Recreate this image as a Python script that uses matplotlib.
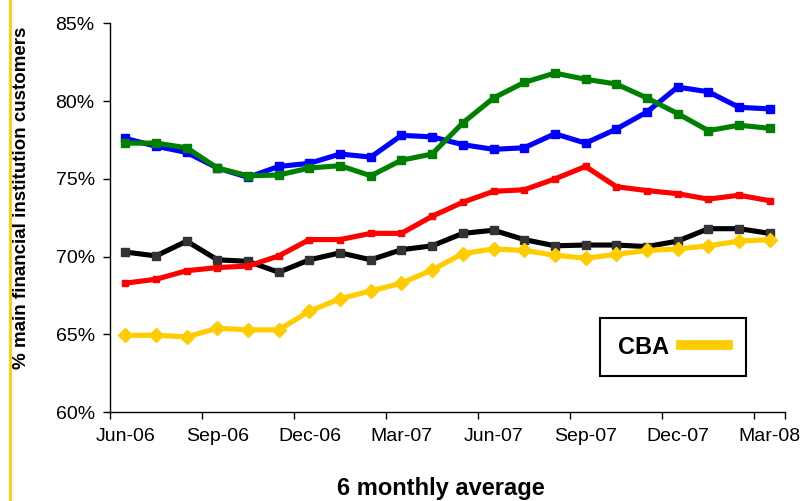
import matplotlib
matplotlib.use("Agg")
import matplotlib.pyplot as plt
from matplotlib.lines import Line2D
from matplotlib.ticker import FuncFormatter

plt.rcParams['font.family'] = ['Liberation Sans', 'DejaVu Sans']

months = ["Jun-06", "Jul-06", "Aug-06", "Sep-06", "Oct-06", "Nov-06", "Dec-06",
          "Jan-07", "Feb-07", "Mar-07", "Apr-07", "May-07", "Jun-07", "Jul-07",
          "Aug-07", "Sep-07", "Oct-07", "Nov-07", "Dec-07", "Jan-08", "Feb-08", "Mar-08"]

blue = [77.6, 77.1, 76.7, 75.7, 75.1, 75.8, 76.0, 76.6, 76.4, 77.8, 77.7, 77.2,
        76.9, 77.0, 77.9, 77.3, 78.2, 79.3, 80.9, 80.6, 79.6, 79.5]
green = [77.3, 77.3, 77.0, 75.7, 75.2, 75.25, 75.7, 75.85, 75.2, 76.2, 76.6, 78.6,
         80.2, 81.2, 81.8, 81.4, 81.1, 80.2, 79.2, 78.1, 78.45, 78.25]
red = [68.3, 68.55, 69.1, 69.3, 69.4, 70.05, 71.1, 71.1, 71.5, 71.5, 72.6, 73.5,
       74.2, 74.3, 75.0, 75.8, 74.5, 74.25, 74.05, 73.7, 73.95, 73.6]
black = [70.3, 70.05, 71.0, 69.8, 69.7, 69.0, 69.8, 70.25, 69.8, 70.45, 70.7, 71.5,
         71.7, 71.1, 70.7, 70.75, 70.75, 70.65, 71.0, 71.8, 71.8, 71.5]
cba = [64.95, 64.95, 64.85, 65.4, 65.3, 65.3, 66.5, 67.3, 67.8, 68.3, 69.15, 70.2,
       70.5, 70.4, 70.1, 69.9, 70.15, 70.4, 70.5, 70.7, 71.0, 71.1]

yticks = [60, 65, 70, 75, 80, 85]
label_idx = [0, 3, 6, 9, 12, 15, 18, 21]

fig = plt.figure(figsize=(8.02, 5.01), dpi=100)
ax = fig.add_axes([110/802, 1 - 412.3/501, 675/802, (412.3 - 23.3)/501])

x = list(range(len(months)))
lw = 3.7
ax.plot(x, black, color='black', lw=lw, marker='s', ms=6, mfc='#333333', mec='#333333', zorder=3)
ax.plot(x, red, color='#FF0000', lw=lw, marker='s', ms=5, mfc='#FF0000', mec='#FF0000', zorder=4)
ax.plot(x, blue, color='#0000FF', lw=lw, marker='s', ms=6, mfc='#0000FF', mec='#0000FF', zorder=5)
ax.plot(x, green, color='#008000', lw=lw, marker='s', ms=6, mfc='#008000', mec='#008000', zorder=6)
ax.plot(x, cba, color='#FFCC00', lw=lw, marker='D', ms=7, mfc='#FFCC00', mec='#FFCC00', zorder=7)

ax.set_xlim(-0.5, len(months) - 0.5)
ax.set_ylim(60, 85)
ax.set_yticks(yticks)
ax.yaxis.set_major_formatter(FuncFormatter(lambda v, p: f"{v:.0f}%"))

ax.set_xticks([i - 0.5 for i in label_idx] + [len(months) - 0.5])
ax.set_xticklabels([])
ax.set_xticks(label_idx, minor=True)
ax.set_xticklabels([months[i] for i in label_idx], minor=True)
ax.tick_params(axis='x', which='major', length=5, width=1, direction='out', color='black')
ax.tick_params(axis='x', which='minor', length=0, pad=11, labelsize=14)
ax.tick_params(axis='y', length=5, width=1, direction='out', labelsize=14, pad=6)

for s in ['top', 'right']:
    ax.spines[s].set_visible(False)
for s in ['left', 'bottom']:
    ax.spines[s].set_color('black')
    ax.spines[s].set_linewidth(1)

fig.text(22/802, 1 - 198/501, "% main financial institution customers", rotation=90,
         ha='center', va='center', fontsize=13.5, fontweight='bold')
fig.text(441/802, 1 - 489/501, "6 monthly average", ha='center', va='center',
         fontsize=17, fontweight='bold')

handle = Line2D([], [], color='#FFCC00', lw=7)
leg = ax.legend([handle], ["CBA"], loc='center', bbox_to_anchor=(673/802, 1 - 347/501),
                bbox_transform=fig.transFigure, markerfirst=False, frameon=True,
                fancybox=False, edgecolor='black', framealpha=1,
                prop={'weight': 'bold', 'size': 17}, handlelength=2.0,
                handletextpad=0.5, borderpad=0.75, borderaxespad=0)
leg.get_frame().set_linewidth(1.5)

fig.add_artist(Line2D([10/802, 10/802], [0, 1], transform=fig.transFigure,
                      color='#FFCC00', lw=2))

fig.savefig("out.png", dpi=100)
